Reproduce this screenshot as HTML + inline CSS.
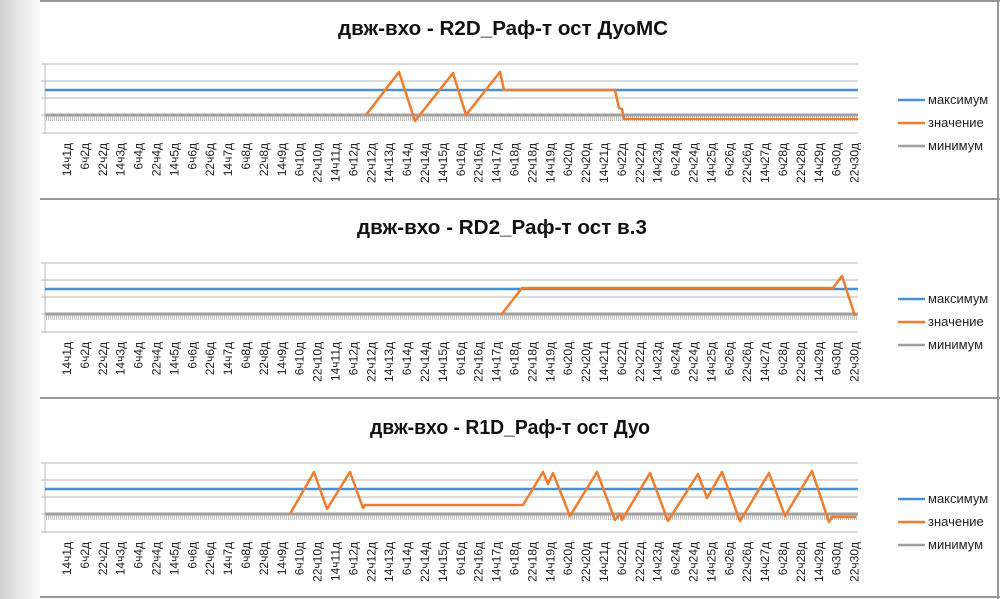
<!DOCTYPE html>
<html><head><meta charset="utf-8"><style>
body{margin:0;background:#fff;}
svg{display:block;font-family:"Liberation Sans","DejaVu Sans",sans-serif;}
</style></head><body>
<svg id="s" width="1000" height="599" viewBox="0 0 1000 599" xmlns="http://www.w3.org/2000/svg">
<defs>
<linearGradient id="lg" x1="0" x2="1"><stop offset="0" stop-color="#d0d0d0"/><stop offset="0.4" stop-color="#e4e4e4"/><stop offset="1" stop-color="#fafafa"/></linearGradient>
<pattern id="tk" width="2" height="6" patternUnits="userSpaceOnUse"><rect x="0" y="0" width="1" height="6" fill="#c0c0c0"/></pattern>
</defs>
<rect x="0" y="0" width="40" height="599" fill="url(#lg)"/>
<line x1="40" y1="1" x2="1000" y2="1" stroke="#999" stroke-width="2"/>
<line x1="40" y1="199" x2="1000" y2="199" stroke="#999" stroke-width="2"/>
<line x1="40" y1="398" x2="1000" y2="398" stroke="#999" stroke-width="2"/>
<line x1="40" y1="597" x2="1000" y2="597" stroke="#999" stroke-width="2"/>
<line x1="998" y1="0" x2="998" y2="599" stroke="#999" stroke-width="2"/>
<g id="g"></g>
</svg>
<script>
var g=document.getElementById('g'),h='';
var titles=['двж-вхо - R2D_Раф-т ост ДуоМС','двж-вхо - RD2_Раф-т ост в.3','двж-вхо - R1D_Раф-т ост Дуо'];
var tl=[330,290,280],tx=[503,502,510];
var offs=[0,199,399];
var data=[
[[366,115],[399,72],[415,121],[453,73],[466,115],[500,72],[504,90],[615,90],[619,108],[622,109],[624,119],[858,119]],
[[501,116],[522,89],[833,89],[842,77],[855,117]],
[[290,115],[314,73],[327,110],[350,73],[363,109],[365,106],[523,106],[543,73],[548,85],[553,74],[570,117],[597,73],[615,121],[620,115],[622,121],[650,74],[668,122],[698,75],[707,99],[722,73],[740,122],[769,74],[785,117],[812,72],[829,123],[832,118],[856,118]]
];
var labs=[];var d=1,hr=14;for(var i=0;i<45;i++){labs.push(hr+'ч'+d+'д');hr+=16;if(hr>=24){hr-=24;d++;}}
for(var p=0;p<3;p++){var o=offs[p];
h+='<text x="'+tx[p]+'" y="'+(35+o)+'" text-anchor="middle" font-size="20" font-weight="bold" fill="#111" textLength="'+tl[p]+'" lengthAdjust="spacingAndGlyphs">'+titles[p]+'</text>';
[64,81,98,133].forEach(function(y){h+='<line x1="45" y1="'+(y+o)+'" x2="858" y2="'+(y+o)+'" stroke="#cfcfcf" stroke-width="1.5"/>';});
h+='<line x1="45" y1="'+(64+o)+'" x2="45" y2="'+(134+o)+'" stroke="#bbb"/>';
[64,81,98,115,133].forEach(function(y){h+='<line x1="41" y1="'+(y+o)+'" x2="45" y2="'+(y+o)+'" stroke="#bbb"/>';});
h+='<rect x="46" y="'+(116+o)+'" width="812" height="5" fill="url(#tk)"/>';
h+='<line x1="45" y1="'+(115+o)+'" x2="858" y2="'+(115+o)+'" stroke="#a0a0a0" stroke-width="3"/>';
h+='<line x1="45" y1="'+(90+o)+'" x2="858" y2="'+(90+o)+'" stroke="#4a8fd6" stroke-width="2.5"/>';
var pts=data[p].map(function(q){return q[0]+','+(q[1]+o);}).join(' ');
h+='<polyline points="'+pts+'" fill="none" stroke="#ef7d2d" stroke-width="2.5" stroke-linejoin="round"/>';
for(var i=0;i<45;i++){var x=67+i*17.9;
h+='<text transform="translate('+(x+4)+','+(143+o)+') rotate(-90)" text-anchor="end" font-size="12" fill="#222">'+labs[i]+'</text>';}
var ly=[100,123,146],ln=['максимум','значение','минимум'],lc=['#4a8fd6','#ef7d2d','#a0a0a0'];
for(var k=0;k<3;k++){h+='<line x1="898" y1="'+(ly[k]+o)+'" x2="925" y2="'+(ly[k]+o)+'" stroke="'+lc[k]+'" stroke-width="2.5"/>';
h+='<text x="928" y="'+(ly[k]+o+4)+'" font-size="13" fill="#222">'+ln[k]+'</text>';}
}
g.innerHTML=h;
</script>
</body></html>
